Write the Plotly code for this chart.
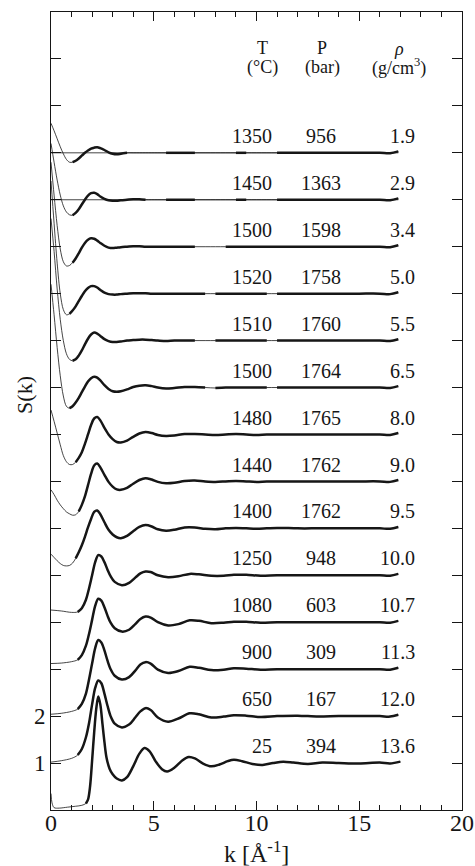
import plotly.graph_objects as go

# ---------------- data ----------------
# temperature, pressure, density labels (bottom curve first)
T_LABELS = ["25", "650", "900", "1080", "1250", "1400", "1440", "1480", "1500", "1510", "1520", "1500", "1450", "1350"]
P_LABELS = ["394", "167", "309", "603", "948", "1762", "1762", "1765", "1764", "1760", "1758", "1598", "1363", "956"]
RHO_LABELS = ["13.6", "12.0", "11.3", "10.7", "10.0", "9.5", "9.0", "8.0", "6.5", "5.5", "5.0", "3.4", "2.9", "1.9"]

# k grids (1/Angstrom)
K_25 = [0, 0.05, 0.15, 0.4, 0.8, 1.2, 1.5, 1.7, 1.8, 1.9, 2.0, 2.1, 2.2, 2.3, 2.4, 2.5, 2.6, 2.7, 2.85, 3.0,
        3.2, 3.45, 3.7, 4.0, 4.3, 4.55, 4.8, 5.1, 5.4, 5.65, 6.0, 6.4, 6.7, 7.0, 7.4, 7.8, 8.2, 8.6, 8.9, 9.3,
        9.8, 10.3, 10.8, 11.3, 11.8, 12.5, 13.2, 14.0, 15.0, 16.0, 16.5, 17.0]
K_LIQ = [0, 0.5, 1.0, 1.3, 1.5, 1.7, 1.85, 2.0, 2.15, 2.3, 2.45, 2.6, 2.75, 2.9, 3.1, 3.45, 3.8, 4.1, 4.35, 4.6,
         4.85, 5.2, 5.7, 6.2, 6.75, 7.2, 7.8, 8.4, 8.9, 9.5, 10.2, 11.0, 12.0, 13.0, 14.0, 15.0, 16.0, 16.5, 16.9]
K_EXP = [0, 0.15, 0.3, 0.45, 0.6, 0.75, 0.9, 1.05, 1.2, 1.35, 1.5, 1.65, 1.8, 1.95, 2.1, 2.25, 2.4, 2.6, 2.8, 3.0,
         3.2, 3.4, 3.7, 4.0, 4.3, 4.6, 4.9, 5.2, 5.6, 6.0, 6.5, 7.0, 7.5, 8.0, 8.5, 9.0, 9.5, 10.0, 10.5, 11.0,
         12.0, 13.0, 14.0, 15.0, 16.0, 16.5, 16.9]

# S(k) values, one list per state point
S_25 = [0.35, 0.15, 0.05, 0.04, 0.06, 0.08, 0.1, 0.14, 0.22, 0.5, 1.05, 1.65, 2.15, 2.42, 2.25, 1.85, 1.45, 1.12, 0.88, 0.76,
        0.67, 0.63, 0.7, 0.93, 1.2, 1.32, 1.25, 1.03, 0.87, 0.82, 0.9, 1.06, 1.13, 1.1, 0.99, 0.93, 0.97, 1.04, 1.07, 1.04,
        0.98, 0.96, 1.0, 1.03, 1.01, 0.98, 1.01, 1.0, 0.99, 1.01, 0.99, 1.03]
S_650 = [0.02, 0.05, 0.1, 0.17, 0.3, 0.55, 0.85, 1.25, 1.6, 1.76, 1.7, 1.48, 1.22, 1.0, 0.84, 0.76, 0.82, 0.97, 1.1, 1.17,
         1.13, 0.97, 0.88, 0.95, 1.06, 1.04, 0.97, 0.99, 1.02, 1.01, 0.98, 1.0, 1.01, 0.99, 1.0, 1.0, 1.0, 0.99, 1.03]
S_900 = [0.04, 0.06, 0.1, 0.15, 0.26, 0.48, 0.78, 1.12, 1.45, 1.62, 1.57, 1.4, 1.18, 1.0, 0.86, 0.78, 0.83, 0.97, 1.1, 1.15,
         1.12, 0.99, 0.92, 0.96, 1.05, 1.03, 0.98, 0.99, 1.02, 1.01, 0.99, 1.0, 1.0, 1.0, 1.0, 1.0, 1.0, 0.99, 1.03]
S_1080 = [0.12, 0.13, 0.16, 0.2, 0.3, 0.5, 0.75, 1.05, 1.35, 1.5, 1.46, 1.32, 1.14, 0.99, 0.87, 0.8, 0.84, 0.96, 1.07, 1.12,
          1.1, 1.0, 0.93, 0.96, 1.04, 1.03, 0.98, 0.99, 1.01, 1.01, 0.99, 1.0, 1.0, 1.0, 1.0, 1.0, 1.0, 0.99, 1.03]
S_1250 = [0.26, 0.24, 0.21, 0.22, 0.3, 0.48, 0.72, 1.0, 1.28, 1.43, 1.4, 1.28, 1.12, 0.98, 0.86, 0.79, 0.84, 0.95, 1.04, 1.08,
          1.07, 1.0, 0.96, 0.98, 1.03, 1.02, 0.99, 0.99, 1.01, 1.01, 0.99, 1.0, 1.0, 1.0, 1.0, 1.0, 1.0, 0.99, 1.03]
S_1400 = [0.45, 0.38, 0.31, 0.25, 0.21, 0.2, 0.21, 0.26, 0.36, 0.49, 0.64, 0.82, 1.02, 1.2, 1.35, 1.38, 1.3, 1.13, 0.97, 0.87,
          0.81, 0.79, 0.84, 0.94, 1.03, 1.07, 1.04, 0.98, 0.95, 0.97, 1.02, 1.02, 0.99, 0.98, 1.0, 1.01, 1.0, 0.99, 1.0, 1.01,
          1.0, 1.0, 1.0, 1.0, 1.0, 0.99, 1.03]
S_1440 = [0.82, 0.72, 0.6, 0.5, 0.42, 0.35, 0.31, 0.28, 0.29, 0.36, 0.5, 0.68, 0.92, 1.16, 1.34, 1.38, 1.3, 1.14, 0.99, 0.89,
          0.83, 0.82, 0.86, 0.95, 1.03, 1.07, 1.04, 0.99, 0.96, 0.97, 1.01, 1.02, 1.0, 0.99, 1.0, 1.01, 1.0, 0.99, 1.0, 1.0,
          1.0, 1.0, 1.0, 1.0, 1.0, 0.99, 1.03]
S_1480 = [1.52, 1.28, 1.03, 0.78, 0.55, 0.42, 0.36, 0.36, 0.41, 0.5, 0.62, 0.8, 1.0, 1.2, 1.34, 1.37, 1.3, 1.14, 1.0, 0.9,
          0.84, 0.83, 0.87, 0.95, 1.02, 1.05, 1.03, 0.99, 0.97, 0.98, 1.01, 1.01, 1.0, 0.99, 1.0, 1.01, 1.0, 0.99, 1.0, 1.0,
          1.0, 1.0, 1.0, 1.0, 1.0, 0.99, 1.03]
S_1500_65 = [3.2, 2.55, 1.85, 1.25, 0.82, 0.6, 0.56, 0.6, 0.68, 0.78, 0.9, 1.02, 1.13, 1.2, 1.23, 1.21, 1.15, 1.05, 0.97, 0.92,
             0.91, 0.92, 0.96, 1.01, 1.04, 1.05, 1.03, 1.0, 0.98, 0.99, 1.01, 1.01, 1.0, 0.99, 1.0, 1.0, 1.0, 1.0, 1.0, 1.0,
             1.0, 1.0, 1.0, 1.0, 1.0, 0.99, 1.03]
S_1510 = [3.6, 2.9, 2.1, 1.45, 1.0, 0.72, 0.6, 0.57, 0.6, 0.68, 0.79, 0.92, 1.04, 1.13, 1.17, 1.15, 1.1, 1.03, 0.99, 0.97,
          0.97, 0.98, 1.0, 1.01, 1.02, 1.02, 1.01, 1.0, 0.99, 1.0, 1.0, 1.0, 1.0, 1.0, 1.0, 1.0, 1.0, 1.0, 1.0, 1.0,
          1.0, 1.0, 1.0, 1.0, 1.0, 0.99, 1.03]
S_1520 = [3.4, 2.5, 1.65, 1.0, 0.66, 0.55, 0.57, 0.64, 0.73, 0.84, 0.95, 1.05, 1.12, 1.16, 1.16, 1.13, 1.08, 1.02, 0.99, 0.98,
          0.98, 0.99, 1.0, 1.01, 1.01, 1.01, 1.0, 1.0, 1.0, 1.0, 1.0, 1.0, 1.0, 1.0, 1.0, 1.0, 1.0, 1.0, 1.0, 1.0,
          1.0, 1.0, 1.0, 1.0, 1.0, 0.99, 1.03]
S_1500_34 = [2.8, 2.1, 1.45, 0.95, 0.68, 0.59, 0.6, 0.66, 0.75, 0.86, 0.98, 1.08, 1.15, 1.18, 1.17, 1.13, 1.08, 1.02, 0.98, 0.97,
             0.98, 0.99, 1.0, 1.01, 1.01, 1.0, 1.0, 1.0, 1.0, 1.0, 1.0, 1.0, 1.0, 1.0, 1.0, 1.0, 1.0, 1.0, 1.0, 1.0,
             1.0, 1.0, 1.0, 1.0, 1.0, 0.99, 1.03]
S_1450 = [2.2, 1.8, 1.42, 1.1, 0.87, 0.74, 0.68, 0.67, 0.72, 0.8, 0.9, 1.0, 1.09, 1.14, 1.15, 1.12, 1.07, 1.02, 0.99, 0.98,
          0.98, 0.99, 1.0, 1.01, 1.01, 1.0, 1.0, 1.0, 1.0, 1.0, 1.0, 1.0, 1.0, 1.0, 1.0, 1.0, 1.0, 1.0, 1.0, 1.0,
          1.0, 1.0, 1.0, 1.0, 1.0, 0.99, 1.03]
S_1350 = [1.63, 1.47, 1.3, 1.13, 0.98, 0.86, 0.8, 0.8, 0.83, 0.88, 0.94, 1.0, 1.05, 1.09, 1.11, 1.12, 1.1, 1.06, 1.01, 0.98,
          0.97, 0.98, 1.0, 1.0, 1.0, 1.0, 1.0, 1.0, 1.0, 1.0, 1.0, 1.0, 1.0, 1.0, 1.0, 1.0, 1.0, 1.0, 1.0, 1.0,
          1.0, 1.0, 1.0, 1.0, 1.0, 0.99, 1.03]

# k ranges where the measured data (thick) exist
SEG_25 = [(1.7, 17.0)]
SEG_LIQ = [(1.3, 16.9)]
SEG_1400 = [(1.2, 16.9)]
SEG_1440 = [(1.35, 16.9)]
SEG_1480 = [(1.2, 16.9)]
SEG_1500_65 = [(0.9, 7.5), (8.0, 10.5), (11.0, 16.9)]
SEG_1510 = [(1.05, 7.0), (8.0, 10.5), (11.0, 16.9)]
SEG_1520 = [(0.9, 7.5), (8.0, 10.5), (11.0, 16.9)]
SEG_1500_34 = [(1.05, 7.0), (8.5, 16.9)]
SEG_1450 = [(1.05, 4.6), (5.6, 7.0), (9.0, 9.5), (11.0, 16.9)]
SEG_1350 = [(1.05, 3.7), (5.6, 7.0), (9.0, 9.5), (11.0, 16.9)]

CURVES = [
    (K_25, S_25, SEG_25),
    (K_LIQ, S_650, SEG_LIQ),
    (K_LIQ, S_900, SEG_LIQ),
    (K_LIQ, S_1080, SEG_LIQ),
    (K_LIQ, S_1250, SEG_LIQ),
    (K_EXP, S_1400, SEG_1400),
    (K_EXP, S_1440, SEG_1440),
    (K_EXP, S_1480, SEG_1480),
    (K_EXP, S_1500_65, SEG_1500_65),
    (K_EXP, S_1510, SEG_1510),
    (K_EXP, S_1520, SEG_1520),
    (K_EXP, S_1500_34, SEG_1500_34),
    (K_EXP, S_1450, SEG_1450),
    (K_EXP, S_1350, SEG_1350),
]
for kk, ss, _ in CURVES:
    assert len(kk) == len(ss), (len(kk), len(ss))

# ---------------- figure ----------------
FONT = "Liberation Serif, 'Times New Roman', Times, 'DejaVu Serif', serif"
INK = "#161616"
fig = go.Figure()

for i, (kk, ss, segs) in enumerate(CURVES):
    y = [s + i for s in ss]
    # thin full curve (extrapolated low-k part and gaps)
    fig.add_trace(go.Scatter(x=kk, y=y, mode="lines",
                             line=dict(color=INK, width=0.8, shape="spline", smoothing=0.9),
                             hoverinfo="skip", showlegend=False))
    if i >= 12:
        fig.add_trace(go.Scatter(x=[0, kk[-1]], y=[1 + i, 1 + i], mode="lines",
                                 line=dict(color=INK, width=0.8), hoverinfo="skip", showlegend=False))
    for lo, hi in segs:
        xs = [k for k in kk if lo - 1e-9 <= k <= hi + 1e-9]
        ys = [v for k, v in zip(kk, y) if lo - 1e-9 <= k <= hi + 1e-9]
        fig.add_trace(go.Scatter(x=xs, y=ys, mode="lines",
                                 line=dict(color=INK, width=2.5, shape="spline", smoothing=0.9),
                                 hoverinfo="skip", showlegend=False))

ann = []
TXT = dict(family=FONT, size=20, color=INK)
HDR = dict(family=FONT, size=18, color=INK)
for i in range(len(T_LABELS)):
    yv = i + 1.36
    ann.append(dict(x=10.86, y=yv, text=T_LABELS[i], xanchor="right", yanchor="middle", showarrow=False, font=TXT))
    ann.append(dict(x=13.15, y=yv, text=P_LABELS[i], xanchor="center", yanchor="middle", showarrow=False, font=TXT))
    ann.append(dict(x=17.82, y=yv, text=RHO_LABELS[i], xanchor="right", yanchor="middle", showarrow=False, font=TXT))

ann += [
    dict(x=10.3, y=16.24, text="T", xanchor="center", yanchor="middle", showarrow=False, font=HDR),
    dict(x=10.3, y=15.82, text="(°C)", xanchor="center", yanchor="middle", showarrow=False, font=HDR),
    dict(x=13.2, y=16.24, text="P", xanchor="center", yanchor="middle", showarrow=False, font=HDR),
    dict(x=13.2, y=15.82, text="(bar)", xanchor="center", yanchor="middle", showarrow=False, font=HDR),
    dict(x=16.95, y=16.22, text="<i>ρ</i>", xanchor="center", yanchor="middle", showarrow=False, font=HDR),
    dict(x=16.95, y=15.82, text="(g/cm<sup>3</sup>)", xanchor="center", yanchor="middle", showarrow=False, font=HDR),
    dict(xref="paper", yref="paper", x=0.5, y=-0.053, text="k [Å<sup>-1</sup>]", xanchor="center",
         yanchor="middle", showarrow=False, font=dict(family=FONT, size=24, color=INK)),
    dict(xref="paper", yref="paper", x=-0.066, y=0.52, text="S(k)", textangle=-90, xanchor="center",
         yanchor="middle", showarrow=False, font=dict(family=FONT, size=22, color=INK)),
]

fig.update_layout(
    width=475, height=866,
    margin=dict(l=51, r=13, t=12, b=56),
    paper_bgcolor="white", plot_bgcolor="white",
    annotations=ann,
    font=dict(family=FONT, color=INK),
    xaxis=dict(range=[0, 20], tick0=0, dtick=5, ticks="inside", ticklen=9, tickwidth=1, tickcolor=INK,
               minor=dict(dtick=1, ticks="inside", ticklen=5, tickcolor=INK, showgrid=False),
               showline=True, linecolor=INK, linewidth=1, mirror="ticks", showgrid=False, zeroline=False,
               automargin=False, ticklabelstandoff=-9, tickfont=dict(family=FONT, size=24, color=INK)),
    yaxis=dict(range=[0, 17], tickmode="array", tickvals=[1, 2], ticktext=["1", "2"],
               ticks="inside", ticklen=10, tickwidth=1, tickcolor=INK,
               minor=dict(tickmode="array", tickvals=list(range(18)), ticks="inside", ticklen=10,
                          tickcolor=INK, showgrid=False),
               showline=True, linecolor=INK, linewidth=1, mirror="ticks", showgrid=False, zeroline=False,
               automargin=False, tickfont=dict(family=FONT, size=23, color=INK)),
)

fig.write_html("out.html", config={"responsive": False, "displayModeBar": False},
               post_script="document.body.style.margin='0';document.documentElement.style.overflow='hidden';")
